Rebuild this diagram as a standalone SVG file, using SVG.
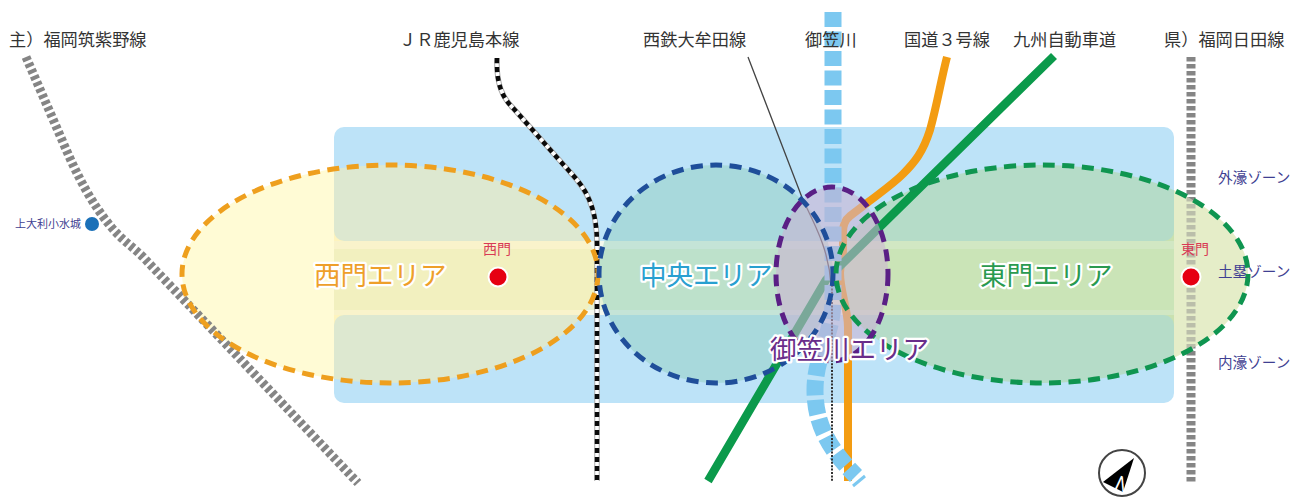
<svg xmlns="http://www.w3.org/2000/svg" width="1308" height="501" viewBox="0 0 1308 501">
<style>
text{font-family:"Noto Sans CJK JP","Noto Sans",sans-serif}
.t{font-size:17.2px;fill:#333}
.z{font-size:14.6px;fill:#3f3f92}
.a{font-size:26.5px;stroke:#fff;stroke-width:4.5;paint-order:stroke;stroke-linejoin:round}
.g{font-size:14px;fill:#d83a55}
.r{fill:none}
.e{fill:none;stroke-width:5;stroke-dasharray:12 7.5}
.gate{fill:#e60012;stroke:#fff;stroke-width:2}
</style>
<defs>
<clipPath id="inrect"><rect x="334" y="127" width="840" height="276"/></clipPath>
<clipPath id="outright"><rect x="1174" y="100" width="134" height="350"/></clipPath>
</defs>
<rect width="1308" height="501" fill="#fff"/>
<g id="underlay">
<ellipse cx="390" cy="274" rx="208" ry="109" fill="#fffbd5"/>
<ellipse cx="1042" cy="274" rx="206" ry="109" fill="#e5edc8"/>
</g>
<g id="zones">
<rect x="334" y="241" width="840" height="74" fill="#f4f8ee"/>
<rect x="334" y="249" width="840" height="61" fill="#e6f2d6"/>
<rect id="zone-outer" x="334" y="127" width="840" height="114" rx="10" fill="#bde3f8"/>
<rect id="zone-inner" x="334" y="315" width="840" height="88" rx="10" fill="#bde3f8"/>
</g>
<path id="road-east" class="r" d="M1191 57V482" stroke="#858585" stroke-width="9" stroke-dasharray="4.5 2.5"/>
<g id="area-fills">
<g clip-path="url(#inrect)">
<ellipse cx="390" cy="274" rx="208" ry="109" fill="#fdeea8" fill-opacity=".5"/>
<ellipse cx="716" cy="274" rx="117" ry="109" fill="#93cfc0" fill-opacity=".5"/>
<ellipse cx="1042" cy="274" rx="206" ry="109" fill="#add598" fill-opacity=".5"/>
</g>
<g clip-path="url(#outright)"><ellipse cx="1042" cy="274" rx="206" ry="109" fill="#e5edc8" fill-opacity=".55"/></g>
</g>
<g id="connectors">
<path id="road-west" class="r" d="M26 57L62 140C78 178 92 204 112 228C122 240 133 247 143 257L358 483" stroke="#858585" stroke-width="9" stroke-dasharray="4 2.8"/>
<path id="jr-base" class="r" d="M497 58C496 85 503 98 513 108L570 172C585 188 597 205 597 245V481" stroke="#aaa" stroke-width="5.5"/>
<path id="jr-white" class="r" d="M497 58C496 85 503 98 513 108L570 172C585 188 597 205 597 245V481" stroke="#fff" stroke-width="3.5"/>
<path id="jr" class="r" d="M497 58C496 85 503 98 513 108L570 172C585 188 597 205 597 245V481" stroke="#0a0a0a" stroke-width="4.5" stroke-dasharray="5 4"/>
<path id="orange" class="r" d="M947 57C941 80 937 105 930 130C923 152 915 162 903 174C893 184 880 193 867 203L850 216C845 220 843 225 843 232V250C843 260 840 265 840 273C840 290 848 310 848 327V481" stroke="#f39c12" stroke-width="8"/>
<path id="green" class="r" d="M1054 56L840 266L826 280L708 481" stroke="#0b9a4b" stroke-width="8.5" stroke-linejoin="round"/>
<path id="river" class="r" d="M833 12V300C833 335 815 355 815 390C815 425 830 450 856 476" stroke="#7cc8f0" stroke-width="17" stroke-dasharray="15 4.5"/>
<path id="river-end" class="r" d="M853 486L865 476" stroke="#7cc8f0" stroke-width="3"/>
<path id="nishitetsu" class="r" d="M748 57L803 200C815 225 829 250 831 285" stroke="#444" stroke-width="1.3"/>
<path id="nishitetsu-2" class="r" d="M832 285V481" stroke="#333" stroke-width="2" stroke-dasharray="2 1.4"/>
</g>
<ellipse id="kasa-fill" cx="832" cy="274" rx="56" ry="87" fill="#cbb4d2" fill-opacity=".58"/>
<g id="west-area">
<ellipse class="e" cx="390" cy="274" rx="208" ry="109" stroke="#ee9f1e"/>
<text class="a" x="314" y="285" fill="#ee9f2a">西門エリア</text>
</g>
<g id="central-area">
<ellipse class="e" cx="716" cy="274" rx="117" ry="109" stroke="#1f4e9a"/>
<text class="a" x="640" y="285" fill="#29a0d0">中央エリア</text>
</g>
<g id="east-area">
<ellipse class="e" cx="1042" cy="274" rx="206" ry="109" stroke="#0f9550"/>
<text class="a" x="980" y="285" fill="#2a9a50">東門エリア</text>
</g>
<g id="kasa-area">
<ellipse class="e" cx="832" cy="274" rx="56" ry="87" stroke="#5a1f85"/>
<text class="a" x="770" y="359" fill="#6a2d8a">御笠川エリア</text>
</g>
<g id="west-gate"><circle class="gate" cx="498" cy="277" r="9.5"/><text class="g" x="483" y="254">西門</text></g>
<g id="east-gate"><circle class="gate" cx="1191" cy="277" r="9.5"/><text class="g" x="1181" y="254" font-size="15">東門</text></g>
<g id="castle"><circle cx="92" cy="224" r="7" fill="#1a70b8"/><text x="15" y="228" font-size="11px" fill="#3f3f92">上大利小水城</text></g>
<g id="labels">
<text class="t" x="9" y="46">主）福岡筑紫野線</text>
<text class="t" x="399" y="46">ＪＲ鹿児島本線</text>
<text class="t" x="643" y="46">西鉄大牟田線</text>
<text class="t" x="805" y="46">御笠川</text>
<text class="t" x="904" y="46">国道３号線</text>
<text class="t" x="1013" y="46">九州自動車道</text>
<text class="t" x="1164" y="46">県）福岡日田線</text>
<text class="z" x="1218" y="183">外濠ゾーン</text>
<text class="z" x="1218" y="277">土塁ゾーン</text>
<text class="z" x="1218" y="368">内濠ゾーン</text>
</g>
<g id="compass">
<circle cx="1122" cy="473" r="23" fill="#fff" stroke="#444" stroke-width="2"/>
<path d="M1134 458L1103 482L1123 492Z" fill="#000"/>
<text x="1116" y="489" font-size="20" fill="#fff" font-family="Liberation Sans" transform="rotate(25 1116 482)">N</text>
</g>
</svg>
